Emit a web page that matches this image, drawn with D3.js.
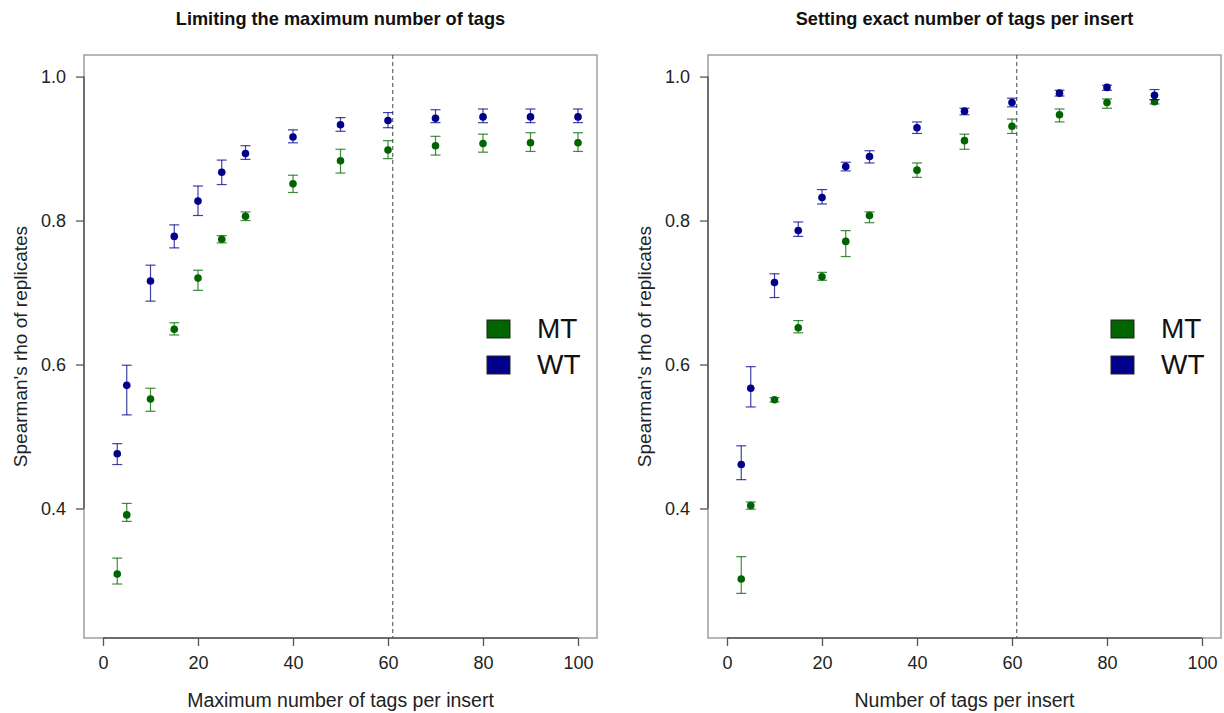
<!DOCTYPE html>
<html>
<head>
<meta charset="utf-8">
<script src="https://cdn.jsdelivr.net/npm/d3@7"></script>
<style>
  html, body { margin: 0; padding: 0; background: #fff; }
  svg { display: block; font-family: "Liberation Sans", Arial, sans-serif; }
</style>
</head>
<body>
<svg id="chart" width="1224" height="713"></svg>
<script>
// ---------------- data ----------------
const panelTitles = ["Limiting the maximum number of tags", "Setting exact number of tags per insert"];
const xLabels = ["Maximum number of tags per insert", "Number of tags per insert"];
const yLabel = "Spearman's rho of replicates";
const seriesNames = ["MT", "WT"];
const xTicks = [0, 20, 40, 60, 80, 100];
const yTicks = [0.4, 0.6, 0.8, 1.0];
const cutoff = 61;

// Left panel: limiting maximum number of tags
const leftX = [3, 5, 10, 15, 20, 25, 30, 40, 50, 60, 70, 80, 90, 100];
const leftMT    = [0.309, 0.391, 0.552, 0.649, 0.720, 0.774, 0.806, 0.851, 0.883, 0.898, 0.904, 0.907, 0.908, 0.908];
const leftMTLo  = [0.295, 0.382, 0.535, 0.641, 0.703, 0.769, 0.800, 0.839, 0.866, 0.886, 0.891, 0.895, 0.896, 0.896];
const leftMTHi  = [0.331, 0.407, 0.567, 0.658, 0.731, 0.779, 0.812, 0.863, 0.899, 0.911, 0.917, 0.920, 0.922, 0.922];
const leftWT    = [0.476, 0.571, 0.716, 0.778, 0.827, 0.867, 0.893, 0.916, 0.933, 0.939, 0.942, 0.944, 0.944, 0.944];
const leftWTLo  = [0.461, 0.530, 0.688, 0.762, 0.807, 0.850, 0.885, 0.908, 0.924, 0.929, 0.936, 0.936, 0.936, 0.936];
const leftWTHi  = [0.490, 0.599, 0.738, 0.794, 0.848, 0.884, 0.904, 0.926, 0.943, 0.950, 0.954, 0.955, 0.955, 0.955];

// Right panel: exact number of tags per insert
const rightX = [3, 5, 10, 15, 20, 25, 30, 40, 50, 60, 70, 80, 90];
const rightMT   = [0.302, 0.404, 0.551, 0.651, 0.722, 0.771, 0.807, 0.870, 0.911, 0.931, 0.947, 0.964, 0.965];
const rightMTLo = [0.282, 0.399, 0.548, 0.644, 0.717, 0.750, 0.797, 0.860, 0.899, 0.921, 0.937, 0.956, 0.962];
const rightMTHi = [0.333, 0.409, 0.554, 0.661, 0.728, 0.786, 0.812, 0.880, 0.920, 0.941, 0.955, 0.969, 0.968];
const rightWT   = [0.461, 0.567, 0.714, 0.786, 0.832, 0.875, 0.889, 0.929, 0.952, 0.964, 0.977, 0.985, 0.974];
const rightWTLo = [0.440, 0.541, 0.693, 0.778, 0.823, 0.869, 0.880, 0.921, 0.947, 0.958, 0.973, 0.981, 0.968];
const rightWTHi = [0.487, 0.597, 0.726, 0.798, 0.843, 0.881, 0.897, 0.937, 0.956, 0.970, 0.981, 0.988, 0.982];

// ---------------- drawing ----------------
const colors = { MT: "#006400", WT: "#00008B" };
const svg = d3.select("#chart");
const FONT = 18;

const panels = [
  { left: 84, right: 597, x: leftX,
    series: [
      { name: "MT", y: leftMT, lo: leftMTLo, hi: leftMTHi },
      { name: "WT", y: leftWT, lo: leftWTLo, hi: leftWTHi }
    ] },
  { left: 708, right: 1221, x: rightX,
    series: [
      { name: "MT", y: rightMT, lo: rightMTLo, hi: rightMTHi },
      { name: "WT", y: rightWT, lo: rightWTLo, hi: rightWTHi }
    ] }
];
const plotTop = 55, plotBottom = 638;

panels.forEach((p, pi) => {
  const g = svg.append("g");
  const x = d3.scaleLinear().domain([-4, 104]).range([p.left, p.right]);
  const y = d3.scaleLinear().domain([0.22, 1.03]).range([plotBottom, plotTop]);

  // box
  g.append("rect")
    .attr("x", p.left).attr("y", plotTop)
    .attr("width", p.right - p.left).attr("height", plotBottom - plotTop)
    .attr("fill", "none").attr("stroke", "#a0a0a0").attr("stroke-width", 1.5);

  // x axis
  const xAxis = g.append("g").attr("transform", `translate(0,${plotBottom})`)
    .call(d3.axisBottom(x).tickValues(xTicks).tickSize(8).tickPadding(10).tickFormat(d3.format("d")));
  xAxis.select(".domain").attr("d", `M${x(xTicks[0])},0H${x(xTicks[xTicks.length-1])}`)
    .attr("stroke", "#555").attr("stroke-width", 1.5);
  xAxis.selectAll(".tick line").attr("stroke", "#555").attr("stroke-width", 1.3);
  xAxis.selectAll(".tick text").attr("font-size", FONT).attr("font-family", "Liberation Sans, Arial, sans-serif").attr("fill", "#222");

  // y axis
  const yAxis = g.append("g").attr("transform", `translate(${p.left},0)`)
    .call(d3.axisLeft(y).tickValues(yTicks).tickSize(8).tickPadding(10).tickFormat(d3.format(".1f")));
  yAxis.select(".domain").attr("d", `M0,${y(yTicks[0])}V${y(yTicks[yTicks.length-1])}`)
    .attr("stroke", "#555").attr("stroke-width", 1.5);
  yAxis.selectAll(".tick line").attr("stroke", "#555").attr("stroke-width", 1.3);
  yAxis.selectAll(".tick text").attr("font-size", FONT).attr("font-family", "Liberation Sans, Arial, sans-serif").attr("fill", "#222");

  // cutoff line
  g.append("line")
    .attr("x1", x(cutoff)).attr("x2", x(cutoff))
    .attr("y1", plotTop).attr("y2", plotBottom)
    .attr("stroke", "#444").attr("stroke-width", 1).attr("stroke-dasharray", "4,3");

  // series
  p.series.forEach(s => {
    const col = colors[s.name];
    const sg = g.append("g");
    const idx = d3.range(p.x.length);
    sg.selectAll(null).data(idx).enter().append("line")
      .attr("x1", i => x(p.x[i])).attr("x2", i => x(p.x[i]))
      .attr("y1", i => y(s.lo[i])).attr("y2", i => y(s.hi[i]))
      .attr("stroke", col).attr("stroke-opacity", 0.75).attr("stroke-width", 1.2);
    [s.lo, s.hi].forEach(arr => {
      sg.selectAll(null).data(idx).enter().append("line")
        .attr("x1", i => x(p.x[i]) - 5).attr("x2", i => x(p.x[i]) + 5)
        .attr("y1", i => y(arr[i])).attr("y2", i => y(arr[i]))
        .attr("stroke", col).attr("stroke-opacity", 0.75).attr("stroke-width", 1.2);
    });
    sg.selectAll(null).data(idx).enter().append("circle")
      .attr("cx", i => x(p.x[i])).attr("cy", i => y(s.y[i]))
      .attr("r", 3.8).attr("fill", col);
  });

  // title
  const cx = (p.left + p.right) / 2;
  g.append("text").attr("x", cx).attr("y", 25)
    .attr("text-anchor", "middle").attr("font-weight", "bold").attr("font-size", 18.2)
    .attr("fill", "#111").text(panelTitles[pi]);

  // x label
  g.append("text").attr("x", cx).attr("y", 707)
    .attr("text-anchor", "middle").attr("font-size", 19.5).attr("fill", "#222").text(xLabels[pi]);

  // y label
  const ly = (plotTop + plotBottom) / 2;
  const lx = p.left - 57;
  g.append("text").attr("transform", `translate(${lx},${ly}) rotate(-90)`)
    .attr("text-anchor", "middle").attr("font-size", 19).attr("fill", "#222").text(yLabel);

  // legend
  const lg = g.append("g");
  seriesNames.forEach((n, k) => {
    const ybase = 338 + k * 36;
    lg.append("rect")
      .attr("x", p.left + 403).attr("y", ybase - 18)
      .attr("width", 23).attr("height", 18)
      .attr("fill", colors[n]).attr("stroke", "#222").attr("stroke-width", 1);
    lg.append("text").attr("x", p.left + 453).attr("y", ybase)
      .attr("font-size", 28).attr("fill", "#111").text(n);
  });
});
</script>
</body>
</html>
